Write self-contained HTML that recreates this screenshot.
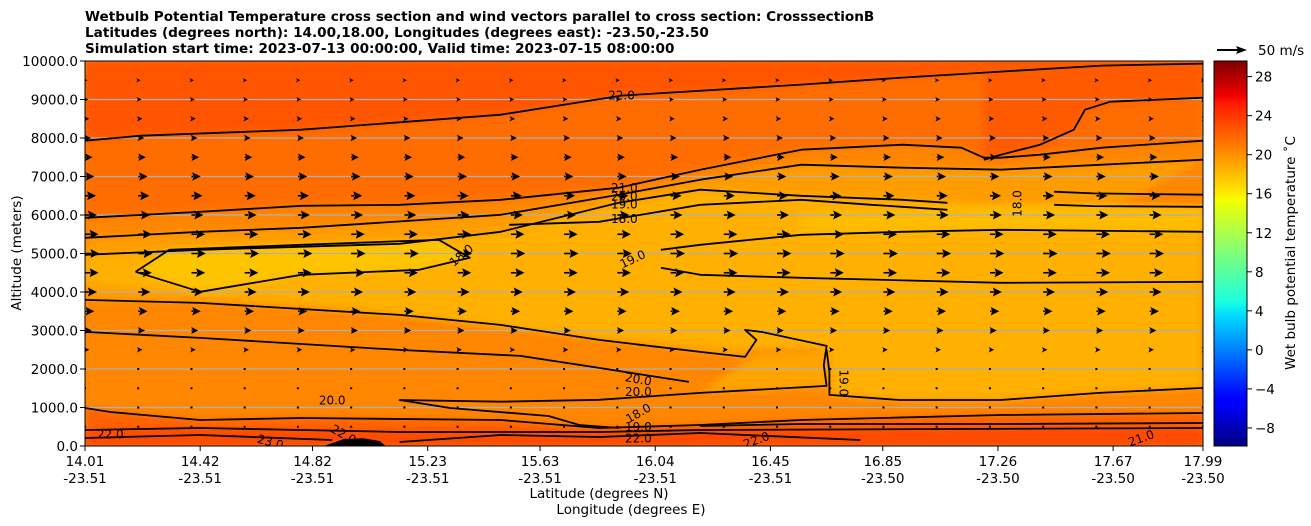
<!DOCTYPE html>
<html><head><meta charset="utf-8">
<style>
html,body{margin:0;padding:0;background:#fff;}
svg{display:block;font-family:"DejaVu Sans","Liberation Sans",sans-serif;}
</style></head>
<body>
<svg id="chart" width="1311" height="526" viewBox="0 0 1311 526" xmlns="http://www.w3.org/2000/svg">
<defs>
<clipPath id="plotclip"><rect x="85" y="61" width="1118" height="385"/></clipPath>
<linearGradient id="jet" x1="0" y1="1" x2="0" y2="0">
<stop offset="0" stop-color="#00007f"/><stop offset="0.11" stop-color="#0000ff"/>
<stop offset="0.125" stop-color="#0000ff"/><stop offset="0.34" stop-color="#00dcff"/>
<stop offset="0.375" stop-color="#1affe0"/><stop offset="0.5" stop-color="#7dff7a"/>
<stop offset="0.64" stop-color="#f5ff00"/><stop offset="0.66" stop-color="#ffe600"/>
<stop offset="0.89" stop-color="#ff1a00"/><stop offset="0.91" stop-color="#f00000"/>
<stop offset="1" stop-color="#7f0000"/>
</linearGradient>
<filter id="soft"><feGaussianBlur stdDeviation="4"/></filter>
</defs>
<text x="85" y="21" font-size="13.6" font-weight="bold">Wetbulb Potential Temperature cross section and wind vectors parallel to cross section: CrosssectionB</text>
<text x="85" y="37" font-size="13.6" font-weight="bold">Latitudes (degrees north): 14.00,18.00, Longitudes (degrees east): -23.50,-23.50</text>
<text x="85" y="53" font-size="13.6" font-weight="bold">Simulation start time: 2023-07-13 00:00:00, Valid time: 2023-07-15 08:00:00</text>
<g id="plot" clip-path="url(#plotclip)"></g>
<g id="overlay"></g>
<text x="21" y="253" font-size="13.5" text-anchor="middle" transform="rotate(-90 21 253)">Altitude (meters)</text>
<text x="599" y="498" font-size="13.5" text-anchor="middle">Latitude (degrees N)</text>
<text x="631" y="514" font-size="13.5" text-anchor="middle">Longitude (degrees E)</text>
<rect x="1214" y="61" width="33" height="385" fill="url(#jet)" stroke="#000" stroke-width="1"/>
<g id="cbar"></g>
<text x="1295" y="253" font-size="13.5" text-anchor="middle" transform="rotate(-90 1295 253)">Wet bulb potential temperature ˚C</text>
<g>
<line x1="1217" y1="50" x2="1240" y2="50" stroke="#000" stroke-width="2"/>
<polygon points="1247,50 1236,46 1238,50 1236,54" fill="#000"/>
<text x="1258" y="55" font-size="13.5">50 m/s</text>
</g>
</svg>
<script>
// ---- data ----
const xTickLats = [14.01,14.42,14.82,15.23,15.63,16.04,16.45,16.85,17.26,17.67,17.99];
const xTickLons = ["-23.51","-23.51","-23.51","-23.51","-23.51","-23.51","-23.51","-23.50","-23.50","-23.50","-23.50"];
const yTicks = [0,1000,2000,3000,4000,5000,6000,7000,8000,9000,10000];
const cbarTicks = [-8,-4,0,4,8,12,16,20,24,28];
const windAlts = [500,1000,1500,2000,2500,3000,3500,4000,4500,5000,5500,6000,6500,7000,7500,8000,8500,9000,9500];
const windSpeeds = [1,1,1,1,5,8,11,14,16,17,16,14,13,11,9,7,5,4,3];
const line22top = [[14.01,7930],[14.21,8060],[14.78,8216],[15.49,8606],[15.92,9100],[16.56,9386],[16.92,9568],[17.27,9724],[17.63,9880],[17.99,9932]];
const line22right = [[17.21,7436],[17.27,7566],[17.41,7826],[17.53,8216],[17.57,8736],[17.66,8944],[17.99,9048]];
const line21 = [[14.01,5928],[14.42,6084],[14.78,6240],[15.13,6266],[15.49,6396],[15.91,6708],[16.20,7176],[16.56,7696],[16.92,7826],[17.13,7748],[17.21,7488],[17.27,7488],[17.41,7566],[17.63,7748],[17.99,7930]];
const line20up = [[14.01,5408],[14.42,5564],[14.78,5668],[15.49,6006],[15.91,6526],[16.20,6916],[16.56,7306],[16.92,7228],[17.27,7176],[17.63,7306],[17.99,7436]];
const line19up = [[14.01,4966],[14.42,5096],[15.13,5252],[15.49,5564],[15.91,6318],[16.20,6656],[16.56,6500],[16.92,6396],[17.08,6318]];
const line19r1 = [[17.46,6604],[17.6,6560],[17.99,6526]];
const line19r2 = [[17.46,6266],[17.6,6230],[17.99,6214]];
const loop18 = [[14.19,4524],[14.31,5096],[14.78,5226],[15.27,5356],[15.38,4888],[15.20,4576],[14.78,4446],[14.42,4004],[14.19,4524]];
const line18up = [[15.52,5746],[15.84,5824],[16.20,6266],[16.56,6396],[16.81,6266],[17.08,6136]];
const line19mU = [[16.06,5096],[16.20,5226],[16.56,5486],[16.92,5564],[17.27,5616],[17.99,5564]];
const line19mL = [[16.06,4628],[16.20,4446],[16.56,4368],[17.27,4238],[17.99,4264]];
const line20low = [[14.01,3796],[14.42,3718],[15.13,3406],[15.49,3146],[15.84,2756],[16.20,2444],[16.36,2314],[16.40,2756],[16.36,3016],[16.42,2960],[16.65,2600],[16.64,2100],[16.65,1560],[16.20,1378],[15.84,1200],[15.49,1150],[15.13,1196],[15.31,988],[15.66,780],[15.77,546],[15.91,468]];
const line20b = [[14.01,2964],[14.42,2808],[15.13,2496],[15.56,2340],[15.84,2028],[16.16,1664]];
const line19long = [[16.65,2496],[16.66,1924],[16.66,1326],[16.91,1196],[17.27,1196],[17.62,1378],[17.99,1508]];
const line1000 = [[14.01,988],[14.10,884],[14.42,676],[14.78,728],[15.49,676],[15.84,468],[16.20,546],[16.56,676],[17.27,806],[17.99,858]];
const line400 = [[14.01,416],[14.42,468],[14.78,416],[15.13,364],[15.49,364],[15.84,364],[16.20,416],[17.99,468]];
const lineSurf = [[14.01,208],[14.42,286],[14.89,156]];
const lineSurf2 = [[15.13,104],[15.49,286],[15.84,234],[16.20,338],[16.77,156]];
const lineSurf3 = [[16.20,520],[16.56,572],[17.27,572],[17.99,598]];
const terrain = [[14.86,0],[14.93,180],[15.0,200],[15.06,130],[15.08,0]];
const labels = [["22.0",15.92,9100,0],["21.0",15.93,6700,0],["20.0",15.93,6480,0],["19.0",15.93,6270,0],["18.0",15.93,5900,0],["18.0",15.35,4950,-40],["19.0",15.96,4850,-25],["20.0",14.89,1180,0],["20.0",15.98,1730,10],["20.0",15.98,1400,0],["18.0",15.98,850,-30],["19.0",15.98,500,0],["22.0",15.98,200,0],["19.0",16.71,1640,90],["18.0",17.33,6300,-90],["21.0",17.77,200,-20],["22.0",16.40,150,-20],["23.0",14.67,100,15],["22.0",14.93,300,30],["22.0",14.10,300,0]];

// ---- axes ----
const X = lat => 85 + (lat - 14.01) / (17.99 - 14.01) * 1118;
const Y = alt => 446 - alt / 10000 * 385;
const CB = v => 446 - (v - (-9.85)) / (29.6 - (-9.85)) * 385;
const NS = "http://www.w3.org/2000/svg";
const plot = document.getElementById('plot');
const overlay = document.getElementById('overlay');
const cbar = document.getElementById('cbar');
function mk(tag, attrs, parent){const e=document.createElementNS(NS,tag);for(const k in attrs)e.setAttribute(k,attrs[k]);parent.appendChild(e);return e;}
const pts = arr => arr.map(p => X(p[0]).toFixed(1)+','+Y(p[1]).toFixed(1)).join(' ');
const rev = a => a.slice().reverse();

let r = mk('rect',{x:85,y:61,width:1118,height:385,fill:'#ff8600'},plot);


const fills = [
 [[[14.01,10000]].concat(line21,[[17.99,10000]]),'#ff6d00','band-21-22'],
 [[[14.01,10000]].concat(line22top,[[17.99,10000]]),'#ff5500','band-22-23'],
 [line22right.concat([[17.99,10000],[17.21,10000]]),'#ff5a00','band-22-right'],
 [line20up.concat(rev(line20low.slice(0,12))),'#ff9d00','band-19-20'],
 [line19up.concat([[17.3,6250],[17.99,6214],[17.99,1508]],rev(line19long),[[16.3,2500],[15.5,3100],[14.8,3700],[14.01,4200]]),'#ffb000','band-18-19'],
 [[[16.2,1400],[16.65,1500],[16.66,2500],[16.4,2400]],'#ffa400','band-19-20-mid'],
 [loop18,'#ffc400','band-below-18'],
 [[[16.56,5486],[17.27,5616],[17.99,5564],[17.99,6214],[17.3,6250],[16.56,6000]],'#ffbc00','band-18-right'],
 [[[14.01,0]].concat(line1000,[[17.99,0]]),'#ff6000','band-low-22'],
 [[[14.01,0]].concat(line400,[[17.99,0]]),'#ff4a00','band-surface-23']
];
fills.forEach(f=>{
 const p = mk('polygon',{points:pts(f[0]),fill:f[1],filter:'url(#soft)'},plot);
 
 
});

yTicks.forEach(v=>{
 const l = mk('line',{x1:85,x2:1203,y1:Y(v),y2:Y(v),stroke:'#b0b0b0','stroke-width':1.2},plot);
 
 
});

const contours = [[line22top,'contour-22-top'],[line22right,'contour-22-right'],[line21,'contour-21'],[line20up,'contour-20-upper'],[line19up,'contour-19-upper'],[line19r1,'contour-19-right-a'],[line19r2,'contour-19-right-b'],[loop18,'contour-18-loop'],[line18up,'contour-18-upper'],[line19mU,'contour-19-mid-upper'],[line19mL,'contour-19-mid-lower'],[line20low,'contour-20-lower'],[line20b,'contour-20-b'],[line19long,'contour-19-long'],[line1000,'contour-22-low'],[line400,'contour-23-low'],[lineSurf,'contour-surface-a'],[lineSurf2,'contour-surface-b'],[lineSurf3,'contour-surface-c']];
contours.forEach(c=>{
 const p = mk('polyline',{points:pts(c[0]),fill:'none',stroke:'#000','stroke-width':1.8,'stroke-linejoin':'round'},plot);
 
 
});
let t = mk('polygon',{points:pts(terrain),fill:'#000'},plot);



const nCols = 22;
for(let i=0;i<nCols;i++){
 const lat = 14.01 + i*0.1895;
 windAlts.forEach((a,j)=>{
  const s = windSpeeds[j]*0.85;
  const x0 = X(lat), y0 = Y(a);
  const g = mk('g',{},plot);
  
  
  if(s<2){
   mk('rect',{x:x0-1,y:y0-1,width:2,height:2,fill:'#000'},g);
  } else {
   const hl = Math.min(9,s*0.6+3), hw = Math.min(4.5, hl*0.5);
   mk('line',{x1:x0,y1:y0,x2:x0+s-hl+1,y2:y0,stroke:'#000','stroke-width':1.6},g);
   mk('polygon',{points:`${x0+s},${y0} ${x0+s-hl},${y0-hw} ${x0+s-hl+1.5},${y0} ${x0+s-hl},${y0+hw}`,fill:'#000'},g);
  }
 });
}

labels.forEach(L=>{
 const x=X(L[1]), y=Y(L[2]);
 const tx = mk('text',{x:x,y:y+4,'font-size':12,'text-anchor':'middle',transform:`rotate(${L[3]} ${x} ${y})`},plot);
 tx.textContent = L[0];
 
 
});

let fr = mk('rect',{x:85,y:61,width:1118,height:385,fill:'none',stroke:'#000','stroke-width':1},overlay);



yTicks.forEach(v=>{
 mk('line',{x1:80,x2:85,y1:Y(v),y2:Y(v),stroke:'#000'},overlay);
 const tx = mk('text',{x:78,y:Y(v)+5,'font-size':13.5,'text-anchor':'end'},overlay);
 tx.textContent = v.toFixed(1);
 
 
});
xTickLats.forEach((v,i)=>{
 const x = X(v);
 mk('line',{x1:x,x2:x,y1:446,y2:451,stroke:'#000'},overlay);
 const a = mk('text',{x:x,y:466,'font-size':13.5,'text-anchor':'middle'},overlay);
 a.textContent = v.toFixed(2);
 
 
 const b = mk('text',{x:x,y:483,'font-size':13.5,'text-anchor':'middle'},overlay);
 b.textContent = xTickLons[i];
 
 
});
cbarTicks.forEach(v=>{
 const y = CB(v);
 mk('line',{x1:1247,x2:1252,y1:y,y2:y,stroke:'#000'},cbar);
 const tx = mk('text',{x:1255,y:y+5,'font-size':13.5},cbar);
 tx.textContent = v<0 ? '\u2212'+Math.abs(v) : String(v);
 
 
});
</script>
</body></html>
